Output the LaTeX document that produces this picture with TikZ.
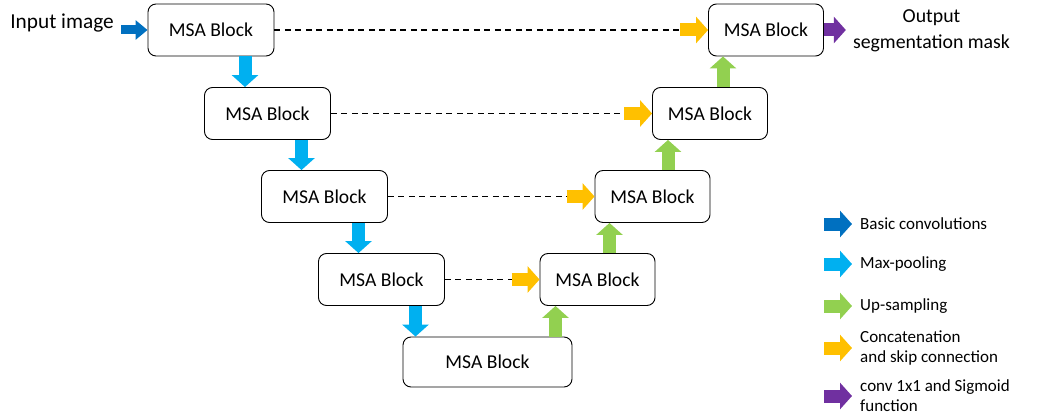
\documentclass[tikz,border=0pt]{standalone}
\usepackage{fontspec}
\setmainfont{Carlito}
\usetikzlibrary{arrows.meta}
\usetikzlibrary{calc}

\definecolor{convblue}{RGB}{0,112,192}
\definecolor{poolblue}{RGB}{0,176,240}
\definecolor{upgreen}{RGB}{146,208,80}
\definecolor{catorange}{RGB}{255,192,0}
\definecolor{sigpurple}{RGB}{112,48,160}

\begin{document}
\begin{tikzpicture}[x=1pt,y=-1pt,
  block/.style={draw,rounded corners=8pt,line width=0.9pt,minimum height=52pt,
    font=\fontsize{19.6}{22}\selectfont},
  fat/.style={line width=13pt,-{Triangle[length=12pt,width=26pt]}},
  skip/.style={line width=1.2pt,dash pattern=on 6pt off 4.5pt},
  legend/.style={anchor=west,align=left,inner sep=0pt,font=\fontsize{17}{20}\selectfont}]
\useasboundingbox (0,0) rectangle (1038,417);

% encoder side
\node[block,minimum width=126pt] (enc1) at (211,30) {MSA Block};
\node[block,minimum width=126pt] (enc2) at (267.5,113.5) {MSA Block};
\node[block,minimum width=126pt] (enc3) at (324.5,196.5) {MSA Block};
\node[block,minimum width=126pt] (enc4) at (381.5,279.5) {MSA Block};
\node[block,minimum width=169pt,minimum height=50pt] (bott) at (487.5,362) {MSA Block};
% decoder side
\node[block,minimum width=115pt] (dec4) at (597.5,279.5) {MSA Block};
\node[block,minimum width=115pt] (dec3) at (652.5,196.5) {MSA Block};
\node[block,minimum width=115pt] (dec2) at (710,113.5) {MSA Block};
\node[block,minimum width=115pt] (dec1) at (766,30) {MSA Block};

\node[anchor=base east,inner sep=0pt,font=\fontsize{21.3}{26}\selectfont] (inp) at (114,29) {Input image};
\node[align=center,inner sep=0pt,font=\fontsize{19.8}{26}\selectfont] (out) at (931.5,31) {Output\\segmentation mask};

% input and output
\draw[convblue,line width=9pt,-{Triangle[length=12pt,width=19pt]}] ($(inp.east |- enc1.west)+(7,0)$) -- (enc1.west);
\draw[fat,sigpurple] (dec1.east) -- ($(out.west |- dec1.east)+(-7,0)$);

% max-pooling
\draw[fat,poolblue] ([xshift=34pt]enc1.south) -- ([xshift=34pt]enc1.south |- enc2.north);
\draw[fat,poolblue] ([xshift=34pt]enc2.south) -- ([xshift=34pt]enc2.south |- enc3.north);
\draw[fat,poolblue] ([xshift=34pt]enc3.south) -- ([xshift=34pt]enc3.south |- enc4.north);
\draw[fat,poolblue] ([xshift=34pt]enc4.south) -- ([xshift=34pt]enc4.south |- bott.north);

% up-sampling
\draw[fat,upgreen] ([xshift=-42pt]dec4.south |- bott.north) -- ([xshift=-42pt]dec4.south);
\draw[fat,upgreen] ([xshift=-43pt]dec3.south |- dec4.north) -- ([xshift=-43pt]dec3.south);
\draw[fat,upgreen] ([xshift=-42pt]dec2.south |- dec3.north) -- ([xshift=-42pt]dec2.south);
\draw[fat,upgreen] ([xshift=-43pt]dec1.south |- dec2.north) -- ([xshift=-43pt]dec1.south);

% skip connections
\draw[skip] (enc1.east) -- ($(dec1.west)+(-28,0)$);
\draw[fat,catorange] ($(dec1.west)+(-28,0)$) -- (dec1.west);
\draw[skip] (enc2.east) -- ($(dec2.west)+(-28,0)$);
\draw[fat,catorange] ($(dec2.west)+(-28,0)$) -- (dec2.west);
\draw[skip] (enc3.east) -- ($(dec3.west)+(-28,0)$);
\draw[fat,catorange] ($(dec3.west)+(-28,0)$) -- (dec3.west);
\draw[skip] (enc4.east) -- ($(dec4.west)+(-28,0)$);
\draw[fat,catorange] ($(dec4.west)+(-28,0)$) -- (dec4.west);

% legend
\node[legend] (leg1) at (860,224) {Basic convolutions};
\node[legend] (leg2) at (860,264) {Max-pooling};
\node[legend] (leg3) at (860,306) {Up-sampling};
\node[legend] (leg4) at (860,348) {Concatenation\\and skip connection};
\node[legend] (leg5) at (860,396) {conv 1x1 and Sigmoid\\function};
\draw[fat,convblue] ($(leg1.west)+(-36,0)$) -- ($(leg1.west)+(-8,0)$);
\draw[fat,poolblue] ($(leg2.west)+(-36,0)$) -- ($(leg2.west)+(-8,0)$);
\draw[fat,upgreen] ($(leg3.west)+(-36,0)$) -- ($(leg3.west)+(-8,0)$);
\draw[fat,catorange] ($(leg4.west)+(-36,0)$) -- ($(leg4.west)+(-8,0)$);
\draw[fat,sigpurple] ($(leg5.west)+(-36,0)$) -- ($(leg5.west)+(-8,0)$);
\end{tikzpicture}
\end{document}
